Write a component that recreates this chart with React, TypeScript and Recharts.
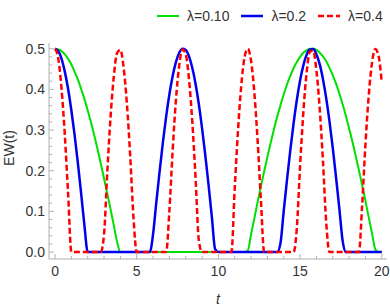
import React from "react";
import { LineChart, Line, XAxis, YAxis } from "recharts";

const tValues = [
  0, 0.2, 0.4, 0.6, 0.8, 1, 1.2, 1.4, 1.6, 1.8, 2, 2.2, 2.4, 2.6, 2.8, 3, 3.2, 3.4, 3.6, 3.8,
  4, 4.2, 4.4, 4.6, 4.8, 5, 5.2, 5.4, 5.6, 5.8, 6, 6.2, 6.4, 6.6, 6.8, 7, 7.2, 7.4, 7.6, 7.8,
  8, 8.2, 8.4, 8.6, 8.8, 9, 9.2, 9.4, 9.6, 9.8, 10, 10.2, 10.4, 10.6, 10.8, 11, 11.2, 11.4, 11.6, 11.8,
  12, 12.2, 12.4, 12.6, 12.8, 13, 13.2, 13.4, 13.6, 13.8, 14, 14.2, 14.4, 14.6, 14.8, 15, 15.2, 15.4, 15.6, 15.8,
  16, 16.2, 16.4, 16.6, 16.8, 17, 17.2, 17.4, 17.6, 17.8, 18, 18.2, 18.4, 18.6, 18.8, 19, 19.2, 19.4, 19.6, 19.8,
  20,
];

const greenValues = [
  0.5, 0.498, 0.494, 0.486, 0.475, 0.461, 0.443, 0.424, 0.401, 0.376, 0.348, 0.319, 0.287, 0.253, 0.218, 0.181, 0.143, 0.105, 0.065, 0.025,
  0, 0, 0, 0, 0, 0, 0, 0, 0, 0, 0, 0, 0, 0, 0, 0, 0, 0, 0, 0,
  0, 0, 0, 0, 0, 0, 0, 0, 0, 0, 0, 0, 0, 0, 0, 0, 0, 0, 0, 0.004,
  0.044, 0.083, 0.123, 0.161, 0.198, 0.234, 0.269, 0.302, 0.333, 0.361, 0.388, 0.412, 0.433, 0.452, 0.467, 0.48, 0.49, 0.496, 0.5, 0.5,
  0.497, 0.49, 0.481, 0.469, 0.453, 0.435, 0.414, 0.39, 0.364, 0.335, 0.304, 0.272, 0.237, 0.201, 0.164, 0.126, 0.086, 0.047, 0.007, 0,
  0,
];

const blueValues = [
  0.5, 0.494, 0.475, 0.443, 0.401, 0.348, 0.287, 0.218, 0.143, 0.065, 0, 0, 0, 0, 0, 0, 0, 0, 0, 0,
  0, 0, 0, 0, 0, 0, 0, 0, 0, 0, 0.044, 0.123, 0.198, 0.269, 0.333, 0.388, 0.433, 0.467, 0.49, 0.5,
  0.497, 0.481, 0.453, 0.414, 0.364, 0.304, 0.237, 0.164, 0.086, 0.007, 0, 0, 0, 0, 0, 0, 0, 0, 0, 0,
  0, 0, 0, 0, 0, 0, 0, 0, 0, 0.022, 0.102, 0.178, 0.25, 0.316, 0.374, 0.422, 0.459, 0.485, 0.498, 0.499,
  0.486, 0.462, 0.425, 0.378, 0.321, 0.256, 0.184, 0.108, 0.029, 0, 0, 0, 0, 0, 0, 0, 0, 0, 0, 0,
  0,
];

const redValues = [
  0.5, 0.475, 0.401, 0.287, 0.143, 0, 0, 0, 0, 0, 0, 0, 0, 0, 0, 0.044, 0.198, 0.333, 0.433, 0.49,
  0.497, 0.453, 0.364, 0.237, 0.086, 0, 0, 0, 0, 0, 0, 0, 0, 0, 0, 0.102, 0.25, 0.374, 0.459, 0.498,
  0.486, 0.425, 0.321, 0.184, 0.029, 0, 0, 0, 0, 0, 0, 0, 0, 0, 0.001, 0.158, 0.299, 0.41, 0.479, 0.5,
  0.47, 0.392, 0.274, 0.129, 0, 0, 0, 0, 0, 0, 0, 0, 0, 0, 0.059, 0.212, 0.344, 0.441, 0.493, 0.495,
  0.446, 0.353, 0.224, 0.072, 0, 0, 0, 0, 0, 0, 0, 0, 0, 0, 0.116, 0.264, 0.384, 0.465, 0.499, 0.483,
  0.417,
];

const xTicks = [0, 1, 2, 3, 4, 5, 6, 7, 8, 9, 10, 11, 12, 13, 14, 15, 16, 17, 18, 19, 20];
const yTicks = [
  0, 0.02, 0.04, 0.06, 0.08, 0.1, 0.12, 0.14, 0.16, 0.18, 0.2, 0.22, 0.24, 0.26, 0.28,
  0.3, 0.32, 0.34, 0.36, 0.38, 0.4, 0.42, 0.44, 0.46, 0.48, 0.5,
];

const series = [
  { key: "green", name: "λ=0.10", color: "#00e000", width: 2, dash: undefined, values: greenValues },
  { key: "blue", name: "λ=0.2", color: "#0000ee", width: 2.5, dash: undefined, values: blueValues },
  { key: "red", name: "λ=0.4", color: "#ff0000", width: 2.5, dash: "6 3", values: redValues },
];

const data = tValues.map((t, i) => {
  const row: Record<string, number> = { t };
  series.forEach((s) => (row[s.key] = s.values[i]));
  return row;
});

const FONT = "'Liberation Sans', Arial, sans-serif";
const FRAME = "#b0b0b0";
const TEXT = "#333";
const FONT_SIZE = 14;
const X_DOMAIN = [-0.37, 20.32];
const Y_DOMAIN = [-0.017, 0.514];

const isMajorY = (v: number) => Math.abs(v * 10 - Math.round(v * 10)) < 1e-6;

function BottomTick({ x, y, payload }: any) {
  const major = payload.value % 5 === 0;
  return (
    <g>
      <line x1={x} x2={x} y1={y} y2={y - (major ? 5 : 3)} stroke={FRAME} />
      {major && (
        <text x={x} y={y + 17} textAnchor="middle" fill={TEXT} fontSize={FONT_SIZE} fontFamily={FONT}>
          {payload.value}
        </text>
      )}
    </g>
  );
}

function TopTick({ x, y, payload }: any) {
  const major = payload.value % 5 === 0;
  return <line x1={x} x2={x} y1={y} y2={y + (major ? 5 : 3)} stroke={FRAME} />;
}

function LeftTick({ x, y, payload }: any) {
  const major = isMajorY(payload.value);
  return (
    <g>
      <line x1={x} x2={x + (major ? 5 : 3)} y1={y} y2={y} stroke={FRAME} />
      {major && (
        <text x={x - 4} y={y + 5} textAnchor="end" fill={TEXT} fontSize={FONT_SIZE} fontFamily={FONT}>
          {payload.value.toFixed(1)}
        </text>
      )}
    </g>
  );
}

function RightTick({ x, y, payload }: any) {
  const major = isMajorY(payload.value);
  return <line x1={x} x2={x - (major ? 5 : 3)} y1={y} y2={y} stroke={FRAME} />;
}

function YLabel({ viewBox }: any) {
  const cx = viewBox.x + 14;
  const cy = viewBox.y + viewBox.height / 2 - 3;
  return (
    <text
      x={cx}
      y={cy}
      transform={`rotate(-90 ${cx} ${cy})`}
      textAnchor="middle"
      fill={TEXT}
      fontSize={FONT_SIZE}
      fontFamily={FONT}
    >
      EW(t)
    </text>
  );
}

function LegendBox() {
  return (
    <div
      style={{
        position: "absolute",
        top: 6,
        left: 157,
        height: 19,
        display: "flex",
        alignItems: "center",
        fontFamily: FONT,
        fontSize: FONT_SIZE,
        color: TEXT,
        whiteSpace: "nowrap",
      }}
    >
      {series.map((s) => (
        <div key={s.key} style={{ display: "flex", alignItems: "center", marginRight: 12 }}>
          <svg width={22} height={6} style={{ marginRight: 8 }}>
            <line x1={0} x2={22} y1={3} y2={3} stroke={s.color} strokeWidth={s.width} strokeDasharray={s.dash} />
          </svg>
          <span>{s.name}</span>
        </div>
      ))}
    </div>
  );
}

export default function App() {
  return (
    <div style={{ position: "absolute", left: 0, top: 0, width: 390, height: 308, background: "#fff" }}>
      <LineChart width={390} height={308} data={data} margin={{ top: 43, right: 3, bottom: 0, left: 0 }}>
        <XAxis
          dataKey="t"
          type="number"
          domain={X_DOMAIN}
          allowDataOverflow
          ticks={xTicks}
          interval={0}
          height={49}
          tickSize={0}
          tickMargin={0}
          tickLine={false}
          axisLine={{ stroke: FRAME }}
          tick={BottomTick}
          label={{
            value: "t",
            position: "insideBottom",
            offset: 4,
            style: { fontSize: FONT_SIZE, fontStyle: "italic", fontFamily: FONT, fill: TEXT },
          }}
        />
        <XAxis
          xAxisId="top"
          orientation="top"
          dataKey="t"
          type="number"
          domain={X_DOMAIN}
          allowDataOverflow
          ticks={xTicks}
          interval={0}
          height={0}
          tickSize={0}
          tickMargin={0}
          tickLine={false}
          axisLine={{ stroke: FRAME }}
          tick={TopTick}
        />
        <YAxis
          type="number"
          domain={Y_DOMAIN}
          allowDataOverflow
          ticks={yTicks}
          interval={0}
          width={49}
          tickSize={0}
          tickMargin={0}
          tickLine={false}
          axisLine={{ stroke: FRAME }}
          tick={LeftTick}
          label={<YLabel />}
        />
        <YAxis
          yAxisId="right"
          orientation="right"
          type="number"
          domain={Y_DOMAIN}
          allowDataOverflow
          ticks={yTicks}
          interval={0}
          width={0}
          tickSize={0}
          tickMargin={0}
          tickLine={false}
          axisLine={{ stroke: FRAME }}
          tick={RightTick}
        />
        {series.map((s) => (
          <Line
            key={s.key}
            type="monotone"
            dataKey={s.key}
            name={s.name}
            stroke={s.color}
            strokeWidth={s.width}
            strokeDasharray={s.dash}
            dot={false}
            activeDot={false}
            isAnimationActive={false}
          />
        ))}
      </LineChart>
      <LegendBox />
    </div>
  );
}
